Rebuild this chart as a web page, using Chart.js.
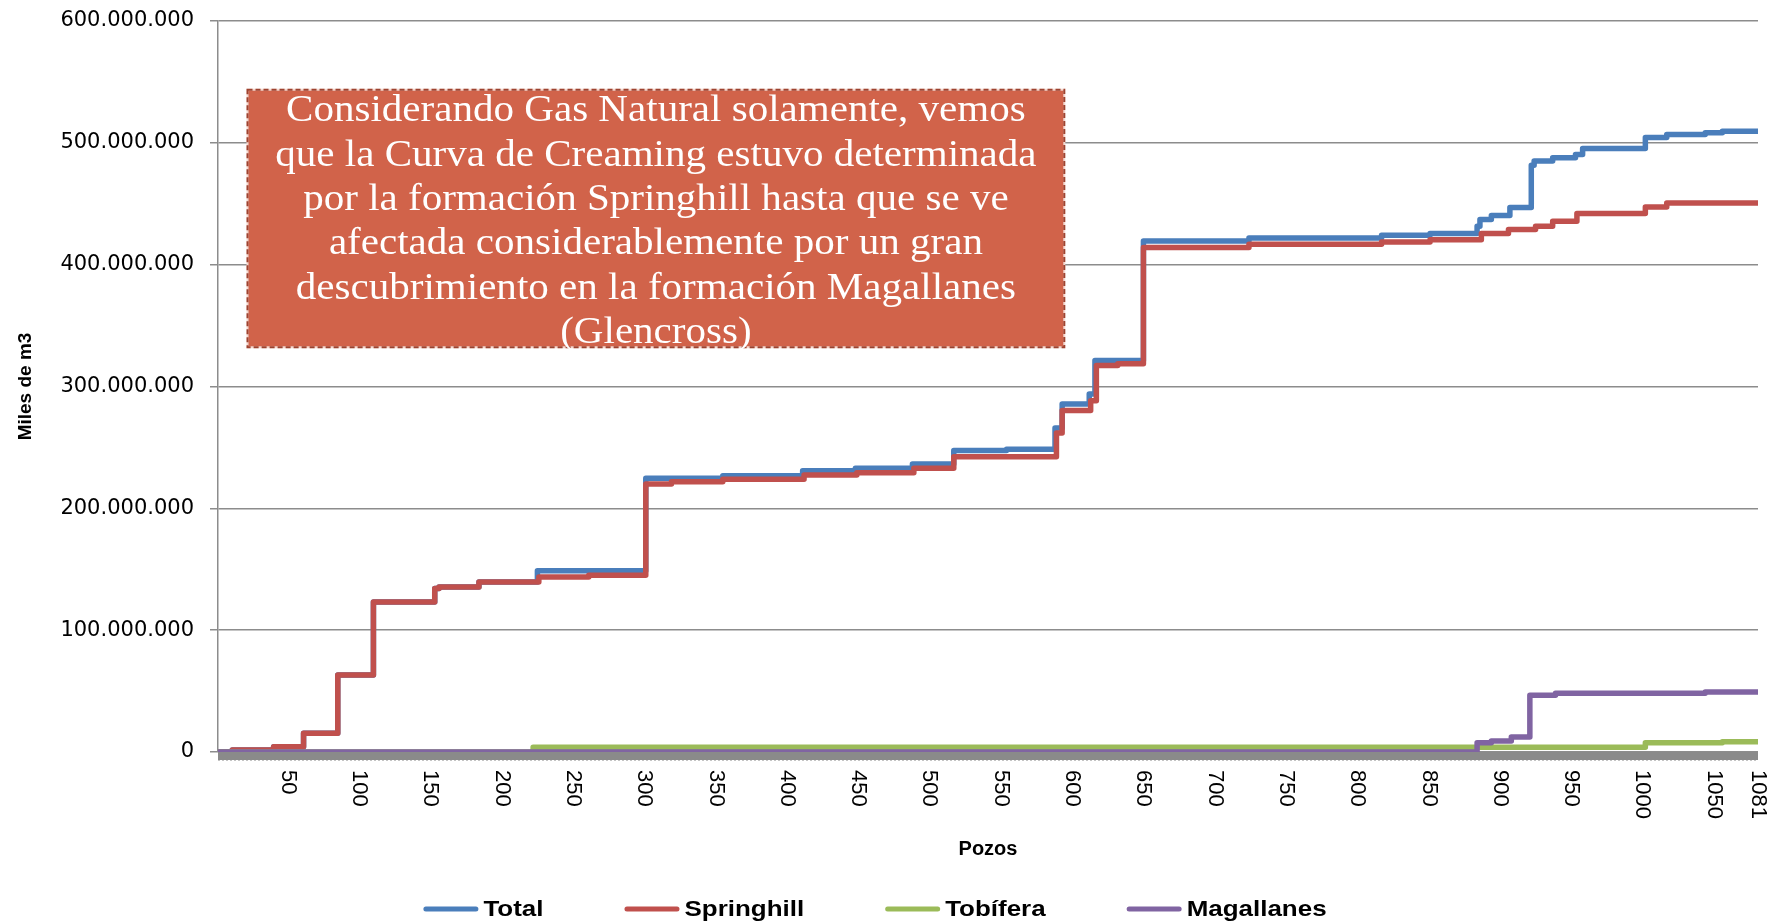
<!DOCTYPE html>
<html>
<head>
<meta charset="utf-8">
<title>Curva de Creaming - Gas Natural</title>
<script src="https://cdn.jsdelivr.net/npm/chart.js@4.4.1/dist/chart.umd.min.js"></script>
<style>
  html, body { margin: 0; padding: 0; background: #fff; }
  #wrap { width: 1767px; height: 923px; }
</style>
</head>
<body>
<div id="wrap"><canvas id="creamingChart" width="1767" height="923"></canvas></div>
<script>
// Curva de Creaming (gas natural) - volumen acumulado por pozo
// valores en millones de "miles de m3"; cada par pozo/valor es donde sube el escalon

const seriesNames = ['Total', 'Springhill', 'Tobífera', 'Magallanes'];
const seriesColors = ['#4A7EBB', '#C0504D', '#9BBB59', '#8064A2'];

const totalPozos = [1, 11, 40, 61, 85, 110, 153, 156, 184, 225, 301, 355, 411, 448, 488, 517, 554, 588, 593, 612, 616, 650, 724, 817, 851, 884, 886, 894, 907, 922, 924, 937, 953, 958, 1002, 1017, 1044, 1056, 1081];
const totalValores = [0, 1.6, 4.4, 15.4, 63.1, 123.1, 134.2, 135.5, 139.6, 148.7, 224.7, 226.8, 230.9, 232.9, 236.4, 247.4, 248.5, 266.0, 285.7, 293.9, 321.3, 419.4, 421.9, 424.1, 425.5, 431.5, 437.0, 440.3, 446.9, 481.7, 485.0, 487.7, 490.5, 495.4, 504.4, 506.9, 508.2, 509.6, 509.6];

const springhillPozos = [1, 11, 40, 61, 85, 110, 153, 156, 184, 226, 261, 301, 319, 355, 412, 449, 489, 517, 589, 593, 613, 617, 632, 650, 724, 817, 851, 887, 906, 925, 937, 954, 1002, 1017, 1081];
const springhillValores = [0, 1.6, 4.4, 15.4, 63.1, 123.1, 134.2, 135.5, 139.6, 143.7, 145.1, 220.0, 221.9, 223.8, 227.4, 229.3, 232.9, 242.4, 261.8, 280.2, 288.4, 317.2, 318.6, 414.0, 416.7, 418.6, 420.5, 425.5, 428.8, 431.5, 435.6, 441.9, 447.4, 450.7, 450.7];

const tobiferaPozos = [1, 222, 1002, 1056, 1081];
const tobiferaValores = [0, 4.0, 7.6, 8.5, 8.5];

const magallanesPozos = [1, 884, 894, 908, 921, 939, 1044, 1081];
const magallanesValores = [0, 7.6, 9.0, 12.3, 46.6, 48.3, 49.3, 49.3];

const pozoTicks = [50, 100, 150, 200, 250, 300, 350, 400, 450, 500, 550, 600, 650, 700, 750, 800, 850, 900, 950, 1000, 1050, 1081];

const notaLineas = [
    'Considerando Gas Natural solamente, vemos',
    'que la Curva de Creaming estuvo determinada',
    'por la formación Springhill hasta que se ve',
    'afectada considerablemente por un gran',
    'descubrimiento en la formación Magallanes',
    '(Glencross)'
];

function toPoints(pozos, valores) {
    return pozos.map((p, i) => ({ x: p, y: valores[i] * 1e6 }));
}

function miles(v) {
    return String(v).replace(/\B(?=(\d{3})+(?!\d))/g, '.');
}

const allSeries = [
    toPoints(totalPozos, totalValores),
    toPoints(springhillPozos, springhillValores),
    toPoints(tobiferaPozos, tobiferaValores),
    toPoints(magallanesPozos, magallanesValores)
];

// gray band under the zero line
const bandaCero = {
    id: 'bandaCero',
    beforeDatasetsDraw(chart) {
        const ctx = chart.ctx;
        const area = chart.chartArea;
        const y0 = chart.scales.y.getPixelForValue(0);
        ctx.save();
        ctx.fillStyle = '#8a8a8a';
        ctx.fillRect(area.left, y0, area.right - area.left, 8);
        ctx.strokeStyle = '#c4c4c4';
        ctx.lineWidth = 1;
        ctx.setLineDash([2, 2]);
        ctx.beginPath();
        ctx.moveTo(area.left, y0 + 8.5);
        ctx.lineTo(area.right, y0 + 8.5);
        ctx.stroke();
        ctx.restore();
    }
};

// x labels read top to bottom
const etiquetasPozos = {
    id: 'etiquetasPozos',
    afterDraw(chart) {
        const ctx = chart.ctx;
        const xs = chart.scales.x;
        ctx.save();
        ctx.font = '22px "Liberation Sans", Arial, sans-serif';
        ctx.fillStyle = '#000';
        ctx.textAlign = 'left';
        ctx.textBaseline = 'middle';
        pozoTicks.forEach(p => {
            ctx.save();
            ctx.translate(xs.getPixelForValue(p), chart.chartArea.bottom + 18);
            ctx.rotate(Math.PI / 2);
            ctx.fillText(String(p), 0, 0);
            ctx.restore();
        });
        ctx.restore();
    }
};

// annotation box, placed in data coordinates
const notaCuadro = {
    id: 'notaCuadro',
    afterDatasetsDraw(chart) {
        const ctx = chart.ctx;
        const xs = chart.scales.x, ys = chart.scales.y;
        const left = xs.getPixelForValue(21.7), right = xs.getPixelForValue(594.5);
        const top = ys.getPixelForValue(543.6e6), bottom = ys.getPixelForValue(332.2e6);
        ctx.save();
        ctx.fillStyle = '#D1634A';
        ctx.fillRect(left, top, right - left, bottom - top);
        ctx.lineWidth = 2;
        ctx.strokeStyle = '#f4d8d0';
        ctx.strokeRect(left, top, right - left, bottom - top);
        ctx.strokeStyle = '#9E4330';
        ctx.setLineDash([5, 3]);
        ctx.strokeRect(left, top, right - left, bottom - top);
        ctx.setLineDash([]);

        ctx.fillStyle = '#fff';
        ctx.font = '38px "Liberation Serif", "Times New Roman", serif';
        ctx.textAlign = 'center';
        ctx.textBaseline = 'alphabetic';
        const cx = (left + right) / 2;
        notaLineas.forEach((line, i) => {
            ctx.save();
            ctx.translate(cx, top + 31.5 + i * 44.4);
            ctx.scale(1.08, 1);
            ctx.fillText(line, 0, 0);
            ctx.restore();
        });
        ctx.restore();
    }
};

// legend along the bottom, line samples like the original
const leyenda = {
    id: 'leyenda',
    afterDraw(chart) {
        const ctx = chart.ctx;
        const lineLen = 55, gap = 5, spacing = 81, y = 909, sx = 1.18;
        ctx.save();
        ctx.font = 'bold 22px "Liberation Sans", Arial, sans-serif';
        ctx.textBaseline = 'middle';
        ctx.textAlign = 'left';
        const items = chart.data.datasets.map(ds => ({
            label: ds.label, color: ds.borderColor, w: ctx.measureText(ds.label).width * sx
        }));
        const total = items.reduce((s, it) => s + lineLen + gap + it.w, 0) + spacing * (items.length - 1);
        let x = 875 - total / 2;
        items.forEach(it => {
            ctx.strokeStyle = it.color;
            ctx.lineWidth = 5;
            ctx.lineCap = 'round';
            ctx.beginPath();
            ctx.moveTo(x + 2.5, y);
            ctx.lineTo(x + lineLen - 2.5, y);
            ctx.stroke();
            ctx.fillStyle = '#000';
            ctx.save();
            ctx.translate(x + lineLen + gap, y + 1);
            ctx.scale(sx, 1);
            ctx.fillText(it.label, 0, 0);
            ctx.restore();
            x += lineLen + gap + it.w + spacing;
        });
        ctx.restore();
    }
};

const ctx = document.getElementById('creamingChart').getContext('2d');

new Chart(ctx, {
    type: 'line',
    data: {
        datasets: allSeries.map((pts, i) => ({
            label: seriesNames[i],
            data: pts,
            borderColor: seriesColors[i],
            backgroundColor: seriesColors[i],
            order: allSeries.length - i,
            stepped: 'before',
            fill: false
        }))
    },
    options: {
        responsive: false,
        animation: false,
        layout: { padding: { top: 21, right: 9, bottom: 0, left: 0 } },
        elements: {
            point: { radius: 0 },
            line: { borderWidth: 5.5, borderCapStyle: 'round', borderJoinStyle: 'round', tension: 0 }
        },
        scales: {
            x: {
                type: 'linear',
                min: 1,
                max: 1081,
                ticks: { display: false },
                grid: { display: false },
                border: { display: false },
                title: {
                    display: true,
                    text: 'Pozos',
                    color: '#000',
                    font: { family: '"Liberation Sans", Arial, sans-serif', size: 20, weight: 'bold' },
                    padding: { top: 0, bottom: 62 }
                },
                afterFit: s => { s.height = 171; s.paddingLeft = 0; s.paddingRight = 0; }
            },
            y: {
                min: 0,
                max: 600000000,
                ticks: {
                    stepSize: 100000000,
                    color: '#000',
                    padding: 16,
                    font: { family: '"DejaVu Sans", Verdana, sans-serif', size: 21 },
                    callback: v => miles(v)
                },
                grid: { color: '#8c8c8c', lineWidth: 1.5, tickLength: 8 },
                border: { color: '#8c8c8c', width: 1.5 },
                title: {
                    display: true,
                    text: 'Miles de m3',
                    color: '#000',
                    font: { family: '"Liberation Sans", Arial, sans-serif', size: 19, weight: 'bold' },
                    padding: { top: 14, bottom: 0 }
                },
                afterFit: s => { s.width = 218; s.paddingTop = 0; s.paddingBottom = 0; }
            }
        },
        plugins: {
            legend: { display: false },
            tooltip: { enabled: false }
        }
    },
    plugins: [bandaCero, etiquetasPozos, notaCuadro, leyenda]
});
</script>
</body>
</html>
